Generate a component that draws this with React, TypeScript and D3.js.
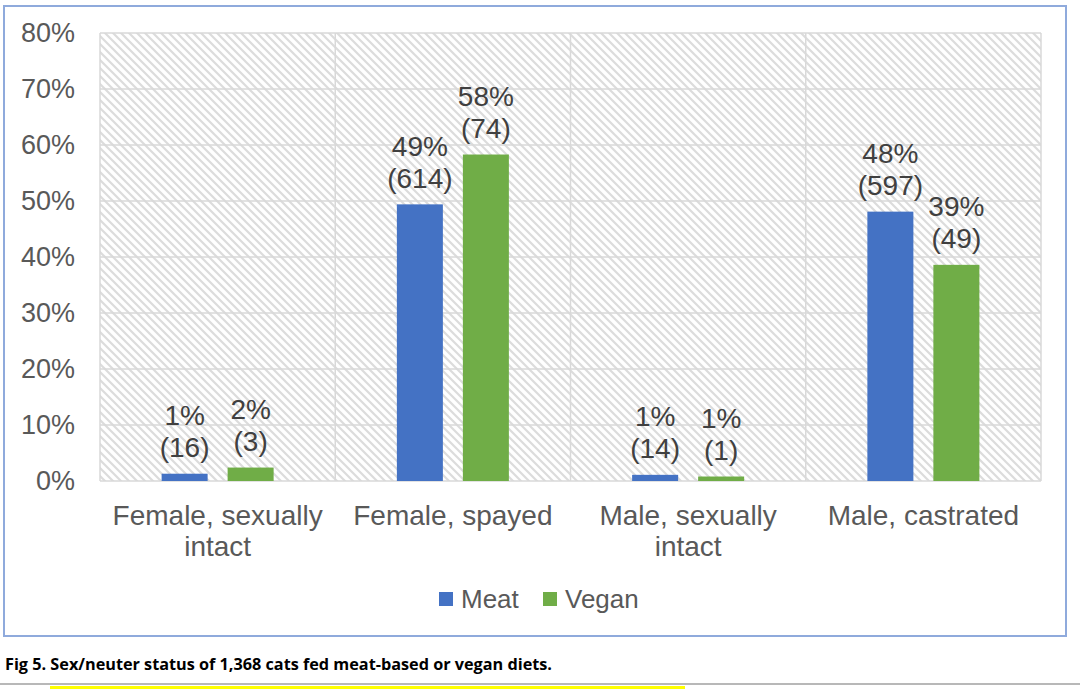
import React from "react";
import * as d3 from "d3";

const categories = [
  ["Female, sexually", "intact"],
  ["Female, spayed"],
  ["Male, sexually", "intact"],
  ["Male, castrated"],
];
const categoryKeys = ["fi", "fs", "mi", "mc"];
const seriesNames = ["Meat", "Vegan"];
const seriesColors = ["#4472C4", "#70AD47"];
const meatPct = [1.3, 49.4, 1.1, 48.1];
const veganPct = [2.4, 58.3, 0.8, 38.6];
const meatCount = [16, 614, 14, 597];
const veganCount = [3, 74, 1, 49];
const yTicks = [0, 10, 20, 30, 40, 50, 60, 70, 80];
const caption = "Fig 5. Sex/neuter status of 1,368 cats fed meat-based or vegan diets.";

const W = 1080;
const H = 689;
const plot = { left: 100, right: 1041, top: 33, bottom: 481 };

export default function App() {
  const x0 = d3.scaleBand<string>().domain(categoryKeys).range([plot.left, plot.right]).padding(0);
  const bw = x0.bandwidth();
  const groupW = 112;
  const off = (bw - groupW) / 2;
  const x1 = d3.scaleBand<string>().domain(seriesNames).range([off, off + groupW]).paddingInner(0.303).paddingOuter(0);
  const y = d3.scaleLinear().domain([0, 80]).range([plot.bottom, plot.top]);

  const series = [
    { name: seriesNames[0], pct: meatPct, cnt: meatCount, color: seriesColors[0] },
    { name: seriesNames[1], pct: veganPct, cnt: veganCount, color: seriesColors[1] },
  ];

  const font = "'Liberation Sans', Arial, sans-serif";
  const vLines = [plot.left, ...categoryKeys.map((k) => (x0(k) as number) + bw)];

  return (
    <div style={{ position: "fixed", left: 0, top: 0 }}>
      <svg width={W} height={H} style={{ display: "block", background: "#fff" }}>
        <defs>
          <pattern id="hatch" width="8" height="8" patternUnits="userSpaceOnUse">
            <rect width="8" height="8" fill="#ffffff" />
            <path d="M-2,-2 L10,10 M-2,6 L2,10 M6,-2 L10,2" stroke="#dcdcdc" strokeWidth="2.2" />
          </pattern>
        </defs>
        <rect x={4} y={6} width={1062} height={630} fill="#fff" stroke="#8FAADC" strokeWidth={2} />
        <rect x={plot.left} y={plot.top} width={plot.right - plot.left} height={plot.bottom - plot.top} fill="url(#hatch)" />
        {yTicks.map((t) => (
          <line key={"g" + t} x1={plot.left} x2={plot.right} y1={y(t)} y2={y(t)} stroke="#d9d9d9" strokeWidth={1.5} />
        ))}
        {vLines.map((vx, i) => (
          <line key={"v" + i} x1={vx} x2={vx} y1={plot.top} y2={plot.bottom} stroke="#d9d9d9" strokeWidth={1.5} />
        ))}
        {yTicks.map((t) => (
          <text key={"t" + t} x={75} y={y(t)} textAnchor="end" dominantBaseline="central" fontFamily={font} fontSize={27} fill="#595959">
            {t + "%"}
          </text>
        ))}
        {series.map((s) =>
          categoryKeys.map((k, i) => {
            const bx = (x0(k) as number) + (x1(s.name) as number);
            const top = y(s.pct[i]);
            const cx = bx + x1.bandwidth() / 2;
            return (
              <g key={s.name + k}>
                <rect x={bx} y={top} width={x1.bandwidth()} height={plot.bottom - top} fill={s.color} />
                <text x={cx} y={top - 58} textAnchor="middle" dominantBaseline="central" fontFamily={font} fontSize={28} fill="#404040">
                  {Math.round(s.pct[i]) + "%"}
                </text>
                <text x={cx} y={top - 26} textAnchor="middle" dominantBaseline="central" fontFamily={font} fontSize={28} fill="#404040">
                  {"(" + s.cnt[i] + ")"}
                </text>
              </g>
            );
          })
        )}
        {categories.map((lines, i) => {
          const cx = (x0(categoryKeys[i]) as number) + bw / 2;
          return (
            <text key={"c" + i} textAnchor="middle" fontFamily={font} fontSize={28} fill="#595959">
              {lines.map((ln, j) => (
                <tspan key={j} x={cx} y={515 + j * 31} dominantBaseline="central">
                  {ln}
                </tspan>
              ))}
            </text>
          );
        })}
        {series.map((s, i) => {
          const lx = i === 0 ? 439 : 543;
          return (
            <g key={"l" + i}>
              <rect x={lx} y={592} width={14} height={14} fill={s.color} />
              <text x={lx + 22} y={599} dominantBaseline="central" fontFamily={font} fontSize={26} fill="#595959">
                {s.name}
              </text>
            </g>
          );
        })}
        <text x={5} y={670} fontFamily="'Open Sans', 'Noto Sans', sans-serif" fontWeight="bold" fontSize={16} fill="#000" textLength={547} lengthAdjust="spacingAndGlyphs">
          {caption}
        </text>
        <line x1={0} x2={1080} y1={684} y2={684} stroke="#a0a0a0" strokeWidth={1.5} />
        <rect x={50} y={686} width={635} height={3} fill="#ffff00" />
      </svg>
    </div>
  );
}
